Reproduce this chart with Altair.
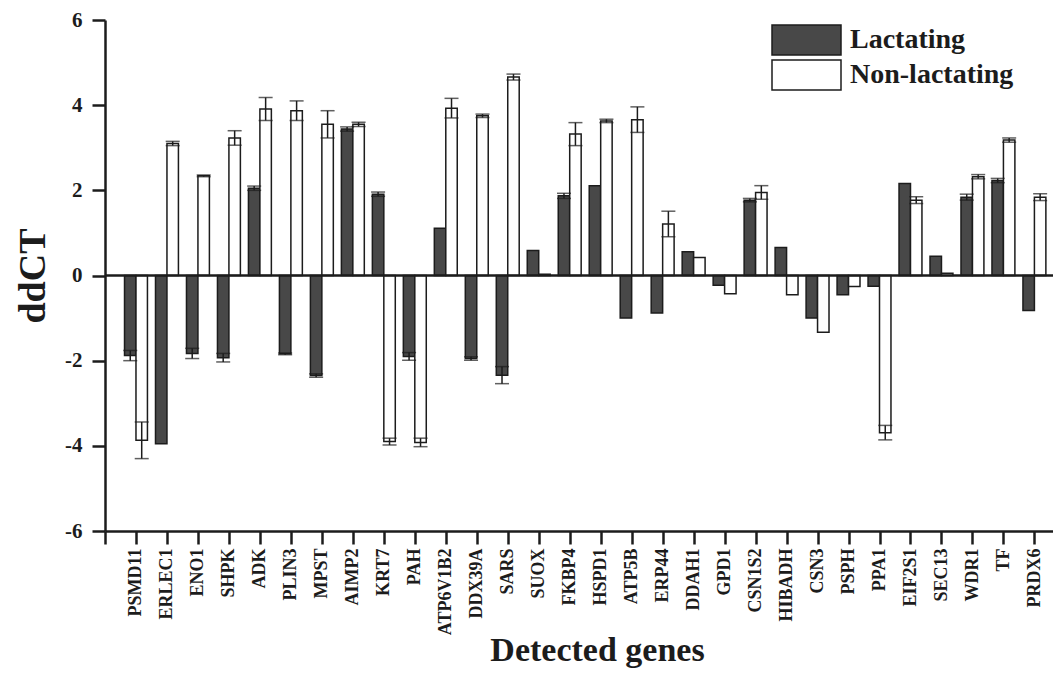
import altair as alt
import pandas as pd

genes = ["PSMD11", "ERLEC1", "ENO1", "SHPK", "ADK", "PLIN3", "MPST", "AIMP2", "KRT7", "PAH",
         "ATP6V1B2", "DDX39A", "SARS", "SUOX", "FKBP4", "HSPD1", "ATP5B", "ERP44", "DDAH1", "GPD1",
         "CSN1S2", "HIBADH", "CSN3", "PSPH", "PPA1", "EIF2S1", "SEC13", "WDR1", "TF", "PRDX6"]
lact_mean = [-1.88, -3.95, -1.83, -1.93, 2.05, -1.84, -2.35, 3.44, 1.91, -1.90,
             1.11, -1.95, -2.34, 0.59, 1.87, 2.11, -1.00, -0.88, 0.56, -0.23,
             1.77, 0.66, -1.00, -0.45, -0.25, 2.16, 0.45, 1.84, 2.23, -0.82]
lact_err = [0.12, 0.0, 0.12, 0.10, 0.05, 0.02, 0.04, 0.05, 0.05, 0.09,
            0.0, 0.04, 0.20, 0.0, 0.06, 0.0, 0.0, 0.0, 0.0, 0.0,
            0.04, 0.0, 0.0, 0.0, 0.0, 0.0, 0.0, 0.07, 0.05, 0.0]
non_mean = [-3.87, 3.10, 2.34, 3.23, 3.91, 3.87, 3.55, 3.55, -3.90, -3.92,
            3.93, 3.75, 4.66, 0.03, 3.32, 3.63, 3.66, 1.21, 0.42, -0.43,
            1.95, -0.45, -1.33, -0.26, -3.69, 1.77, 0.05, 2.32, 3.18, 1.84]
non_err = [0.43, 0.05, 0.02, 0.17, 0.27, 0.23, 0.32, 0.05, 0.08, 0.10,
           0.23, 0.04, 0.07, 0.0, 0.27, 0.04, 0.30, 0.30, 0.0, 0.0,
           0.16, 0.0, 0.0, 0.0, 0.17, 0.08, 0.0, 0.05, 0.05, 0.08]
series = ["Lactating", "Non-lactating"]
y_ticks = [-6, -4, -2, 0, 2, 4, 6]

rows = []
for i, g in enumerate(genes):
    rows.append({"gene": g, "idx": i + 1, "series": series[0], "mean": lact_mean[i], "err": lact_err[i]})
    rows.append({"gene": g, "idx": i + 1, "series": series[1], "mean": non_mean[i], "err": non_err[i]})
df = pd.DataFrame(rows)

FONT = "'Liberation Serif', 'Times New Roman', 'DejaVu Serif', serif"
INK = "#1c1c1c"
label_expr = "[" + ",".join(["''"] + ["'" + g + "'" for g in genes]) + "][datum.value]"

xscale = alt.Scale(domain=[0, 30.6], nice=False, zero=False)
yscale = alt.Scale(domain=[-6, 6], nice=False, zero=False)
fill_scale = alt.Scale(domain=series, range=["#484848", "#ffffff"])

base = alt.Chart(df).transform_calculate(
    side="datum.series == 'Lactating' ? -1 : 1",
).transform_calculate(
    xa="datum.idx + (datum.side < 0 ? -0.37 : 0)",
    xb="datum.idx + (datum.side < 0 ? 0 : 0.37)",
    xc="datum.idx + datum.side * 0.185",
    lo="datum.mean - datum.err",
    hi="datum.mean + datum.err",
)

x_axis = alt.Axis(
    values=list(range(31)), labelExpr=label_expr, labelAngle=270,
    labelFont=FONT, labelFontWeight="bold", labelFontSize=18, labelColor=INK,
    labelPadding=4, labelOverlap=False, labelFlush=False, labelBound=False,
    tickSize=13, tickWidth=2.5, tickColor=INK, domainWidth=2.5, domainColor=INK,
    grid=False, title="Detected genes", titleFont=FONT, titleFontWeight="bold",
    titleFontSize=34, titleColor=INK, titleX=492, titleY=129,
    titleAlign="center", titleBaseline="alphabetic", titleAnchor="start",
)
y_axis = alt.Axis(
    values=y_ticks, labelExpr="'' + datum.value",
    labelFont=FONT, labelFontWeight="bold", labelFontSize=21, labelColor=INK,
    labelPadding=10, tickSize=13, tickWidth=2.5, tickColor=INK,
    domainWidth=2.5, domainColor=INK, grid=False,
    title="ddCT", titleFont=FONT, titleFontWeight="bold", titleFontSize=38,
    titleColor=INK, titlePadding=12,
)

def X(field):
    return alt.X(field, scale=xscale, axis=x_axis)

def Y(field):
    return alt.Y(field, scale=yscale, axis=y_axis)

bars = base.mark_bar(stroke=INK, strokeWidth=1.5).encode(
    x=X("xa:Q"),
    x2="xb:Q",
    y=Y("mean:Q"),
    y2=alt.datum(0),
    fill=alt.Fill("series:N", scale=fill_scale, legend=None),
)

err_base = base.transform_filter("datum.err > 0")
err_rule = err_base.mark_rule(color=INK, strokeWidth=1.5).encode(
    x=X("xc:Q"), y=Y("lo:Q"), y2="hi:Q",
)
cap_lo = err_base.mark_tick(color=INK, orient="horizontal", size=14, thickness=1.5).encode(
    x=X("xc:Q"), y=Y("lo:Q"),
)
cap_hi = err_base.mark_tick(color=INK, orient="horizontal", size=14, thickness=1.5).encode(
    x=X("xc:Q"), y=Y("hi:Q"),
)

zero_line = alt.Chart(alt.Data(values=[{"z": 0}])).mark_rule(color=INK, strokeWidth=2.5).encode(
    y=Y("z:Q"),
)

leg_dark = alt.Chart(alt.Data(values=[{"s": series[0]}])).mark_rect(
    fill="#484848", stroke=INK, strokeWidth=1.5
).encode(x=alt.value(667), x2=alt.value(736), y=alt.value(5), y2=alt.value(35))
leg_white = alt.Chart(alt.Data(values=[{"s": series[1]}])).mark_rect(
    fill="#ffffff", stroke=INK, strokeWidth=1.5
).encode(x=alt.value(667), x2=alt.value(736), y=alt.value(40), y2=alt.value(70))
leg_txt1 = alt.Chart(alt.Data(values=[{"s": series[0]}])).mark_text(
    font=FONT, fontWeight="bold", fontSize=28, color=INK, align="left", baseline="middle"
).encode(x=alt.value(745), y=alt.value(20), text="s:N")
leg_txt2 = alt.Chart(alt.Data(values=[{"s": series[1]}])).mark_text(
    font=FONT, fontWeight="bold", fontSize=28, color=INK, align="left", baseline="middle"
).encode(x=alt.value(745), y=alt.value(55), text="s:N")

chart = alt.layer(
    bars, err_rule, cap_lo, cap_hi, zero_line, leg_dark, leg_white, leg_txt1, leg_txt2
).properties(
    width=948, height=511,
    autosize=alt.AutoSizeParams(type="none"),
    padding={"left": 97, "top": 12, "right": 0, "bottom": 137},
    background="white",
).configure_view(stroke=None)

chart.save("out.html", embed_options={"renderer": "svg", "actions": False})
